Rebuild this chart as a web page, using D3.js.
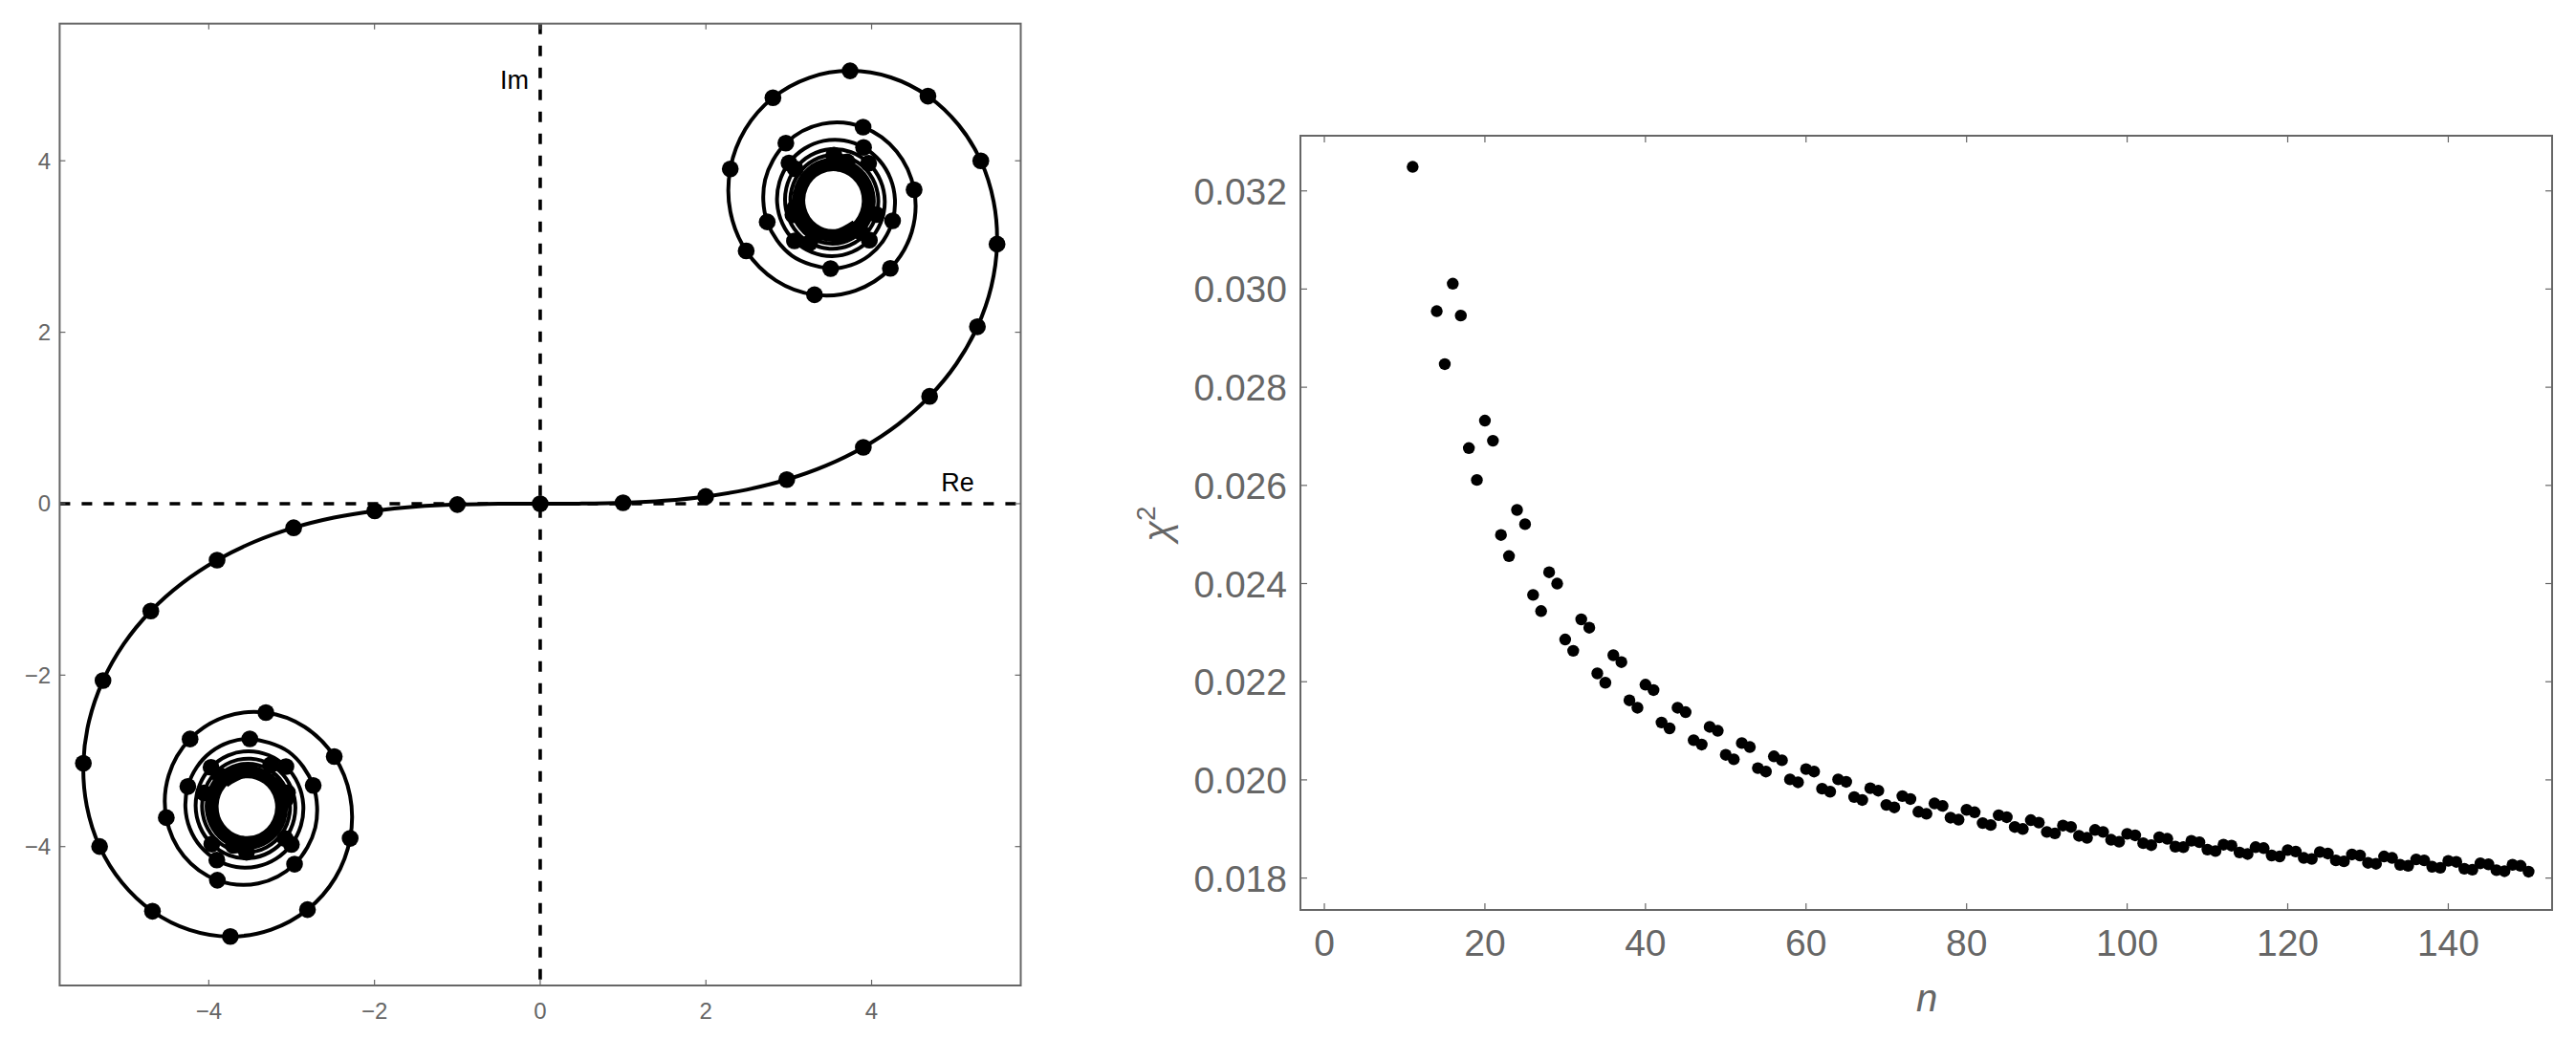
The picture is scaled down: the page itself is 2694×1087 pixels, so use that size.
<!DOCTYPE html>
<html><head><meta charset="utf-8"><script src="https://cdn.jsdelivr.net/npm/d3@7"></script>
<style>body{margin:0;background:#fff}text{font-family:"Liberation Sans",Arial,sans-serif}</style></head>
<body>
<svg id="c" width="2694" height="1087"></svg>
<script>
// ---- left panel: spiral points (arc length s: 0..19.5 every 0.5, 20..45 every 0.25)
const spiralS = d3.range(0, 20, 0.5).concat(d3.range(20, 45.001, 0.25));
const spiralX = [0.000,0.500,1.000,1.499,1.997,2.490,2.976,3.449,3.900,4.321,
 4.700,5.024,5.277,5.445,5.514,5.473,5.318,5.049,4.680,4.232,
 3.740,3.248,2.809,2.475,2.294,2.295,2.486,2.843,3.311,3.804,
 4.226,4.484,4.513,4.302,3.897,3.404,2.965,2.715,2.740,3.036,
 3.505,3.750,3.972,4.146, 4.253,4.282,4.229,4.098, 3.903,3.668,3.419,3.188,
 3.003,2.888,2.860,2.923, 3.069,3.279,3.524,3.767, 3.973,4.111,4.159,4.107,
 3.964,3.753,3.507,3.268, 3.078,2.971,2.966,3.066, 3.252,3.490,3.735,3.938,
 4.059,4.073,3.975,3.786, 3.545,3.304,3.117,3.025, 3.050,3.188,3.406,3.653,
 3.870,4.003,4.017,3.909, 3.705,3.459,3.235,3.094, 3.075,3.184,3.391,3.637,
 3.853,3.973,3.962,3.823, 3.596,3.353,3.168,3.103, 3.177,3.368,3.614,3.831,
 3.946,3.919,3.758,3.520, 3.289,3.149,3.152,3.298, 3.532,3.765,3.909,3.906,
 3.757,3.520,3.292,3.164, 3.191,3.362,3.605,3.817, 3.905,3.831,3.627,3.383,
 3.210,3.187,3.325,3.561, 3.784];
const spiralY = [0.000,0.001,0.010,0.035,0.084,0.163,0.281,0.444,0.658,0.927,
 1.252,1.633,2.064,2.534,3.028,3.525,3.999,4.419,4.754,4.972,
 5.049,4.969,4.735,4.367,3.904,3.407,2.949,2.604,2.437,2.485,
 2.745,3.168,3.662,4.109,4.392,4.430,4.205,3.779,3.287,2.894,
 2.743,2.782,2.896,3.075, 3.299,3.546,3.789,4.001, 4.156,4.237,4.232,4.141,
 3.975,3.754,3.507,3.267, 3.066,2.933,2.887,2.937, 3.075,3.281,3.525,3.768,
 3.971,4.101,4.135,4.066, 3.906,3.683,3.435,3.207, 3.044,2.975,3.014,3.156,
 3.373,3.620,3.848,4.008, 4.066,4.008,3.846,3.616, 3.370,3.164,3.048,3.049,
 3.168,3.377,3.624,3.846, 3.987,4.008,3.903,3.700, 3.454,3.232,3.098,3.089,
 3.210,3.425,3.672,3.875, 3.973,3.935,3.771,3.533, 3.298,3.142,3.118,3.235,
 3.453,3.697,3.884,3.946, 3.860,3.658,3.412,3.214, 3.138,3.214,3.413,3.659,
 3.854,3.921,3.831,3.621, 3.377,3.201,3.168,3.292, 3.521,3.755,3.890,3.866,
 3.692,3.448,3.246,3.181, 3.284];
const markerMaxS = 36;               // dots sit at whole arc lengths 0..36
const leftTicks = [-4,-2,0,2,4];
const axisLabels = ["Re","Im"];

// ---- right panel
const chiN = [11].concat(d3.range(14,151));
const chiSq = [0.03249,
 0.02955,0.02847,0.03011,0.02946, 0.02676,0.02611,0.02732,0.02691,
 0.02499,0.02456,0.02550,0.02521, 0.02377,0.02344,0.02423,0.02400,
 0.02286,0.02263,0.02327,0.02310, 0.02217,0.02198,0.02254,0.02240,
 0.02162,0.02147,0.02194,0.02183, 0.02117,0.02105,0.02147,0.02138,
 0.02081,0.02072,0.02108,0.02100, 0.02051,0.02042,0.02075,0.02067,
 0.02024,0.02017,0.02048,0.02040, 0.02001,0.01995,0.02022,0.02017,
 0.01982,0.01976,0.02001,0.01996, 0.01965,0.01959,0.01983,0.01978,
 0.01949,0.01944,0.01967,0.01961, 0.01935,0.01931,0.01952,0.01947,
 0.01923,0.01919,0.01939,0.01934, 0.01912,0.01908,0.01928,0.01924,
 0.01904,0.01900,0.01918,0.01913, 0.01894,0.01891,0.01907,0.01904,
 0.01886,0.01882,0.01898,0.01894, 0.01878,0.01874,0.01890,0.01887,
 0.01871,0.01867,0.01883,0.01880, 0.01864,0.01863,0.01876,0.01873,
 0.01858,0.01855,0.01868,0.01866, 0.01852,0.01849,0.01863,0.01861,
 0.01846,0.01844,0.01857,0.01854, 0.01841,0.01839,0.01853,0.01850,
 0.01836,0.01834,0.01848,0.01846, 0.01831,0.01829,0.01844,0.01841,
 0.01827,0.01825,0.01838,0.01836, 0.01823,0.01821,0.01835,0.01833,
 0.01819,0.01817,0.01830,0.01828, 0.01816,0.01814,0.01827,0.01825,
 0.01813];
const nTicks = [0,20,40,60,80,100,120,140];
const chiTicks = [0.018,0.020,0.022,0.024,0.026,0.028,0.030,0.032];

const svg = d3.select("#c");
const GRAY = "#666";
const minus = s => String(s).replace("-", "\u2212");

// ================= LEFT PANEL =================
const L = {x0:62.4, x1:1067.5, y0:24.7, y1:1031};
const lx = d3.scaleLinear().domain([-5.8,5.8]).range([L.x0,L.x1]);
const ly = d3.scaleLinear().domain([-5.62,5.6]).range([L.y1,L.y0]);
const gL = svg.append("g");

// dashed axes
gL.append("line").attr("x1",L.x0).attr("x2",L.x1).attr("y1",ly(0)).attr("y2",ly(0))
  .attr("stroke","#000").attr("stroke-width",3.6).attr("stroke-dasharray","11,12");
gL.append("line").attr("x1",lx(0)).attr("x2",lx(0)).attr("y1",L.y0).attr("y2",L.y1)
  .attr("stroke","#000").attr("stroke-width",3.6).attr("stroke-dasharray","11,12");

// curve: both branches (second branch is the point reflection of the first)
const pos = spiralX.map((x,i)=>({x:x,y:spiralY[i],s:spiralS[i]}));
const neg = pos.slice(1).map(p=>({x:-p.x,y:-p.y,s:-p.s})).reverse();
const full = neg.concat(pos);
gL.append("path").datum(full)
  .attr("d", d3.line().x(d=>lx(d.x)).y(d=>ly(d.y)).curve(d3.curveCatmullRom.alpha(0.5)))
  .attr("fill","none").attr("stroke","#000").attr("stroke-width",4).attr("stroke-linejoin","round");
gL.append("g").selectAll("circle")
  .data(full.filter(d=>Math.abs(d.s - Math.round(d.s))<1e-6 && Math.abs(d.s)<=markerMaxS))
  .join("circle").attr("cx",d=>lx(d.x)).attr("cy",d=>ly(d.y)).attr("r",8.8).attr("fill","#000");

// axis labels
gL.append("text").attr("x",lx(4.84)).attr("y",ly(0)-13).attr("font-size",27).attr("fill","#000").text(axisLabels[0]);
gL.append("text").attr("x",lx(0)-12).attr("y",ly(4.84)).attr("font-size",27).attr("fill","#000")
  .attr("text-anchor","end").text(axisLabels[1]);

// frame + ticks
gL.append("rect").attr("x",L.x0).attr("y",L.y0).attr("width",L.x1-L.x0).attr("height",L.y1-L.y0)
  .attr("fill","none").attr("stroke",GRAY).attr("stroke-width",2);
leftTicks.forEach(t=>{
  gL.append("line").attr("x1",lx(t)).attr("x2",lx(t)).attr("y1",L.y1).attr("y2",L.y1-6).attr("stroke",GRAY).attr("stroke-width",1.2);
  gL.append("line").attr("x1",lx(t)).attr("x2",lx(t)).attr("y1",L.y0).attr("y2",L.y0+6).attr("stroke",GRAY).attr("stroke-width",1.2);
  gL.append("line").attr("y1",ly(t)).attr("y2",ly(t)).attr("x1",L.x0).attr("x2",L.x0+6).attr("stroke",GRAY).attr("stroke-width",1.2);
  gL.append("line").attr("y1",ly(t)).attr("y2",ly(t)).attr("x1",L.x1).attr("x2",L.x1-6).attr("stroke",GRAY).attr("stroke-width",1.2);
  gL.append("text").attr("x",lx(t)).attr("y",1066).attr("text-anchor","middle").attr("font-size",24).attr("fill",GRAY).text(minus(t));
  gL.append("text").attr("x",53).attr("y",ly(t)+8.5).attr("text-anchor","end").attr("font-size",24).attr("fill",GRAY).text(minus(t));
});

// ================= RIGHT PANEL =================
const R = {x0:1360, x1:2669, y0:142, y1:952};
const rx = d3.scaleLinear().domain([-2.98,152.93]).range([R.x0,R.x1]);
const ry = d3.scaleLinear().domain([0.01735,0.033124]).range([R.y1,R.y0]);
const gR = svg.append("g");
gR.append("rect").attr("x",R.x0).attr("y",R.y0).attr("width",R.x1-R.x0).attr("height",R.y1-R.y0)
  .attr("fill","none").attr("stroke",GRAY).attr("stroke-width",2);
nTicks.forEach(t=>{
  gR.append("line").attr("x1",rx(t)).attr("x2",rx(t)).attr("y1",R.y1).attr("y2",R.y1-7).attr("stroke",GRAY).attr("stroke-width",1.2);
  gR.append("line").attr("x1",rx(t)).attr("x2",rx(t)).attr("y1",R.y0).attr("y2",R.y0+7).attr("stroke",GRAY).attr("stroke-width",1.2);
  gR.append("text").attr("x",rx(t)).attr("y",1000).attr("text-anchor","middle").attr("font-size",39).attr("fill",GRAY).text(t);
});
chiTicks.forEach(t=>{
  gR.append("line").attr("y1",ry(t)).attr("y2",ry(t)).attr("x1",R.x0).attr("x2",R.x0+7).attr("stroke",GRAY).attr("stroke-width",1.2);
  gR.append("line").attr("y1",ry(t)).attr("y2",ry(t)).attr("x1",R.x1).attr("x2",R.x1-7).attr("stroke",GRAY).attr("stroke-width",1.2);
  gR.append("text").attr("x",1346).attr("y",ry(t)+14).attr("text-anchor","end").attr("font-size",39).attr("fill",GRAY).text(t.toFixed(3));
});
gR.append("g").selectAll("circle").data(chiN.map((n,i)=>({n:n,v:chiSq[i]})))
  .join("circle").attr("cx",d=>rx(d.n)).attr("cy",d=>ry(d.v)).attr("r",6.2).attr("fill","#000");

// axis titles
gR.append("text").attr("x",2015).attr("y",1058).attr("text-anchor","middle").attr("font-size",40)
  .attr("font-style","italic").attr("fill",GRAY).text("n");
const yl = gR.append("text").attr("transform","translate(1224,548) rotate(-90)").attr("text-anchor","middle")
  .attr("font-size",40).attr("fill",GRAY);
yl.append("tspan").attr("font-style","italic").text("\u03C7");
yl.append("tspan").attr("font-size",28).attr("dy",-16).text("2");
</script></body></html>
